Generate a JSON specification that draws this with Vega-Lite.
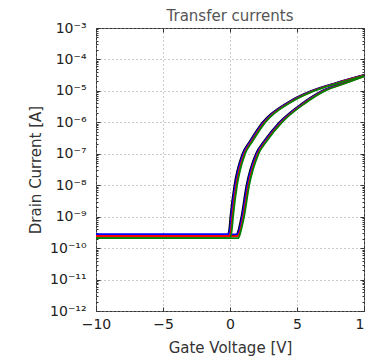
{
  "$schema": "https://vega.github.io/schema/vega-lite/v6.json",
  "autosize": "none",
  "padding": {"left": 96, "top": 28, "right": 1, "bottom": 46},
  "width": 268,
  "height": 283,
  "background": "white",
  "config": {
    "font": "DejaVu Sans",
    "view": {"stroke": "#333", "strokeWidth": 1}
  },
  "title": {"text": "Transfer currents", "fontSize": 15, "fontWeight": "normal", "color": "#555", "offset": -3, "font": "DejaVu Sans"},
  "data": {"values": [
    {"s":"k","w":"down","v":-10,"i":2.512e-10},{"s":"k","w":"down","v":-0.22,"i":2.512e-10},{"s":"k","w":"down","v":-0.07,"i":3.548e-10},{"s":"k","w":"down","v":0.03,"i":1e-9},{"s":"k","w":"down","v":0.33,"i":1e-8},{"s":"k","w":"down","v":0.93,"i":1e-7},{"s":"k","w":"down","v":1.48,"i":2.512e-7},{"s":"k","w":"down","v":2.43,"i":1e-6},{"s":"k","w":"down","v":4.38,"i":4.467e-6},{"s":"k","w":"down","v":6.08,"i":1e-5},{"s":"k","w":"down","v":7.88,"i":1.778e-5},{"s":"k","w":"down","v":10,"i":3.24e-5},
    {"s":"k","w":"up","v":-10,"i":2.512e-10},{"s":"k","w":"up","v":0.43,"i":2.512e-10},{"s":"k","w":"up","v":0.58,"i":3.162e-10},{"s":"k","w":"up","v":0.85,"i":1e-9},{"s":"k","w":"up","v":1.23,"i":1e-8},{"s":"k","w":"up","v":1.93,"i":1e-7},{"s":"k","w":"up","v":2.53,"i":2.512e-7},{"s":"k","w":"up","v":3.68,"i":1e-6},{"s":"k","w":"up","v":5.38,"i":3.981e-6},{"s":"k","w":"up","v":6.88,"i":1e-5},{"s":"k","w":"up","v":8.48,"i":1.778e-5},{"s":"k","w":"up","v":10,"i":3.09e-5},
    {"s":"b","w":"down","v":-10,"i":2.754e-10},{"s":"b","w":"down","v":-0.16,"i":2.754e-10},{"s":"b","w":"down","v":-0.01,"i":3.548e-10},{"s":"b","w":"down","v":0.09,"i":1e-9},{"s":"b","w":"down","v":0.39,"i":1e-8},{"s":"b","w":"down","v":0.99,"i":1e-7},{"s":"b","w":"down","v":1.54,"i":2.512e-7},{"s":"b","w":"down","v":2.49,"i":1e-6},{"s":"b","w":"down","v":4.44,"i":4.467e-6},{"s":"b","w":"down","v":6.14,"i":1e-5},{"s":"b","w":"down","v":7.94,"i":1.778e-5},{"s":"b","w":"down","v":10,"i":3.16e-5},
    {"s":"b","w":"up","v":-10,"i":2.754e-10},{"s":"b","w":"up","v":0.49,"i":2.754e-10},{"s":"b","w":"up","v":0.64,"i":3.162e-10},{"s":"b","w":"up","v":0.91,"i":1e-9},{"s":"b","w":"up","v":1.29,"i":1e-8},{"s":"b","w":"up","v":1.99,"i":1e-7},{"s":"b","w":"up","v":2.59,"i":2.512e-7},{"s":"b","w":"up","v":3.74,"i":1e-6},{"s":"b","w":"up","v":5.44,"i":3.981e-6},{"s":"b","w":"up","v":6.94,"i":1e-5},{"s":"b","w":"up","v":8.54,"i":1.778e-5},{"s":"b","w":"up","v":10,"i":3.02e-5},
    {"s":"r","w":"down","v":-10,"i":2.399e-10},{"s":"r","w":"down","v":-0.08,"i":2.399e-10},{"s":"r","w":"down","v":0.07,"i":3.548e-10},{"s":"r","w":"down","v":0.17,"i":1e-9},{"s":"r","w":"down","v":0.47,"i":1e-8},{"s":"r","w":"down","v":1.07,"i":1e-7},{"s":"r","w":"down","v":1.62,"i":2.512e-7},{"s":"r","w":"down","v":2.57,"i":1e-6},{"s":"r","w":"down","v":4.52,"i":4.467e-6},{"s":"r","w":"down","v":6.22,"i":1e-5},{"s":"r","w":"down","v":8.02,"i":1.778e-5},{"s":"r","w":"down","v":10,"i":3.09e-5},
    {"s":"r","w":"up","v":-10,"i":2.399e-10},{"s":"r","w":"up","v":0.57,"i":2.399e-10},{"s":"r","w":"up","v":0.72,"i":3.162e-10},{"s":"r","w":"up","v":0.99,"i":1e-9},{"s":"r","w":"up","v":1.37,"i":1e-8},{"s":"r","w":"up","v":2.07,"i":1e-7},{"s":"r","w":"up","v":2.67,"i":2.512e-7},{"s":"r","w":"up","v":3.82,"i":1e-6},{"s":"r","w":"up","v":5.52,"i":3.981e-6},{"s":"r","w":"up","v":7.02,"i":1e-5},{"s":"r","w":"up","v":8.62,"i":1.778e-5},{"s":"r","w":"up","v":10,"i":2.95e-5},
    {"s":"g","w":"down","v":-10,"i":2.089e-10},{"s":"g","w":"down","v":-0.02,"i":2.089e-10},{"s":"g","w":"down","v":0.13,"i":3.548e-10},{"s":"g","w":"down","v":0.23,"i":1e-9},{"s":"g","w":"down","v":0.53,"i":1e-8},{"s":"g","w":"down","v":1.13,"i":1e-7},{"s":"g","w":"down","v":1.68,"i":2.512e-7},{"s":"g","w":"down","v":2.63,"i":1e-6},{"s":"g","w":"down","v":4.58,"i":4.467e-6},{"s":"g","w":"down","v":6.28,"i":1e-5},{"s":"g","w":"down","v":8.08,"i":1.778e-5},{"s":"g","w":"down","v":10,"i":3.02e-5},
    {"s":"g","w":"up","v":-10,"i":2.089e-10},{"s":"g","w":"up","v":0.63,"i":2.089e-10},{"s":"g","w":"up","v":0.78,"i":3.162e-10},{"s":"g","w":"up","v":1.05,"i":1e-9},{"s":"g","w":"up","v":1.43,"i":1e-8},{"s":"g","w":"up","v":2.13,"i":1e-7},{"s":"g","w":"up","v":2.73,"i":2.512e-7},{"s":"g","w":"up","v":3.88,"i":1e-6},{"s":"g","w":"up","v":5.58,"i":3.981e-6},{"s":"g","w":"up","v":7.08,"i":1e-5},{"s":"g","w":"up","v":8.68,"i":1.778e-5},{"s":"g","w":"up","v":10,"i":2.88e-5}
  ]},
  "resolve": {"axis": {"x": "independent", "y": "independent"}},
  "layer": [
    {
      "mark": {"type": "line", "opacity": 0, "strokeWidth": 1},
      "encoding": {
        "x": {"field": "v", "type": "quantitative", "scale": {"domain": [-10, 10], "nice": false},
          "axis": {"orient": "top", "values": [-10, -5, 0, 5, 10], "labels": false, "title": null, "domain": false, "grid": false, "tickSize": -4, "tickColor": "#333"}},
        "y": {"field": "i", "type": "quantitative", "scale": {"type": "log", "domain": [1e-12, 1e-3], "nice": false},
          "axis": {"orient": "right",
            "values": [1e-12,2e-12,3e-12,4e-12,5e-12,6e-12,7e-12,8e-12,9e-12,1e-11,2e-11,3e-11,4e-11,5e-11,6e-11,7e-11,8e-11,9e-11,1e-10,2e-10,3e-10,4e-10,5e-10,6e-10,7e-10,8e-10,9e-10,1e-9,2e-9,3e-9,4e-9,5e-9,6e-9,7e-9,8e-9,9e-9,1e-8,2e-8,3e-8,4e-8,5e-8,6e-8,7e-8,8e-8,9e-8,1e-7,2e-7,3e-7,4e-7,5e-7,6e-7,7e-7,8e-7,9e-7,1e-6,2e-6,3e-6,4e-6,5e-6,6e-6,7e-6,8e-6,9e-6,1e-5,2e-5,3e-5,4e-5,5e-5,6e-5,7e-5,8e-5,9e-5,1e-4,2e-4,3e-4,4e-4,5e-4,6e-4,7e-4,8e-4,9e-4,1e-3],
            "labels": false, "title": null, "domain": false, "grid": false,
            "tickSize": {"condition": {"test": "abs(log(datum.value)/log(10) - round(log(datum.value)/log(10))) < 0.01", "value": -4}, "value": -2},
            "tickColor": "#333"}},
        "detail": {"field": "w"},
        "color": {"field": "s", "legend": null}
      }
    },
    {
      "mark": {"type": "line", "strokeWidth": 1.8, "interpolate": "monotone"},
      "encoding": {
        "x": {"field": "v", "type": "quantitative", "scale": {"domain": [-10, 10], "nice": false},
          "axis": {"orient": "bottom", "values": [-10, -5, 0, 5, 10], "format": "d", "title": "Gate Voltage [V]", "labelFlush": false,
            "labelFontSize": 14, "labelColor": "#222", "labelPadding": 10, "titleFontSize": 15, "titleFontWeight": "normal", "titleColor": "#333", "titlePadding": 9,
            "domain": false, "grid": true, "gridDash": [1, 3], "gridColor": "#999", "tickSize": -4, "tickColor": "#333"}},
        "y": {"field": "i", "type": "quantitative", "scale": {"type": "log", "domain": [1e-12, 1e-3], "nice": false},
          "axis": {"orient": "left",
            "values": [1e-12,2e-12,3e-12,4e-12,5e-12,6e-12,7e-12,8e-12,9e-12,1e-11,2e-11,3e-11,4e-11,5e-11,6e-11,7e-11,8e-11,9e-11,1e-10,2e-10,3e-10,4e-10,5e-10,6e-10,7e-10,8e-10,9e-10,1e-9,2e-9,3e-9,4e-9,5e-9,6e-9,7e-9,8e-9,9e-9,1e-8,2e-8,3e-8,4e-8,5e-8,6e-8,7e-8,8e-8,9e-8,1e-7,2e-7,3e-7,4e-7,5e-7,6e-7,7e-7,8e-7,9e-7,1e-6,2e-6,3e-6,4e-6,5e-6,6e-6,7e-6,8e-6,9e-6,1e-5,2e-5,3e-5,4e-5,5e-5,6e-5,7e-5,8e-5,9e-5,1e-4,2e-4,3e-4,4e-4,5e-4,6e-4,7e-4,8e-4,9e-4,1e-3],
            "labelExpr": "abs(log(datum.value)/log(10) - round(log(datum.value)/log(10))) < 0.01 ? '10' + ['⁻³','⁻⁴','⁻⁵','⁻⁶','⁻⁷','⁻⁸','⁻⁹','⁻¹⁰','⁻¹¹','⁻¹²'][-3 - round(log(datum.value) / log(10))] : ''",
            "labelFlush": false, "labelOverlap": false,
            "title": "Drain Current [A]", "labelFontSize": 14, "labelColor": "#222", "labelPadding": 14, "titleFontSize": 15, "titleFontWeight": "normal", "titleColor": "#333", "titlePadding": 6,
            "domain": false, "grid": true, "gridDash": [1, 3], "gridColor": "#999",
            "gridOpacity": {"condition": {"test": "abs(log(datum.value)/log(10) - round(log(datum.value)/log(10))) < 0.01", "value": 1}, "value": 0},
            "tickSize": {"condition": {"test": "abs(log(datum.value)/log(10) - round(log(datum.value)/log(10))) < 0.01", "value": -4}, "value": -2},
            "tickColor": "#333"}},
        "detail": {"field": "w"},
        "color": {"field": "s", "type": "nominal", "scale": {"domain": ["k", "b", "r", "g"], "range": ["#000000", "#0000ff", "#ff0000", "#008000"]}, "legend": null}
      }
    }
  ]
}
